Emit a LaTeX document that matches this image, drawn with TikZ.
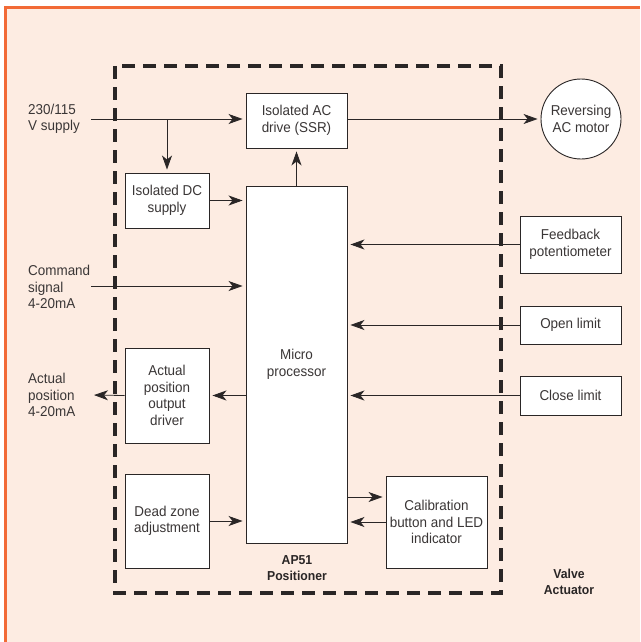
\documentclass[tikz,border=0pt]{standalone}
\usepackage{fontspec}
\setmainfont{Liberation Sans}[FakeStretch=0.94]
\usetikzlibrary{arrows.meta}
\definecolor{bgpeach}{HTML}{FDECE2}
\definecolor{frameorange}{HTML}{F26A36}
\definecolor{ink}{HTML}{2A2626}
\definecolor{txt}{HTML}{3A3636}
\begin{document}
\begin{tikzpicture}[x=1pt,y=-1pt,
  blk/.style={draw=ink,line width=0.9pt,fill=white,inner sep=1pt,align=center,
    font=\fontsize{14.3}{16.5}\selectfont,text=txt},
  lbl/.style={align=left,anchor=west,inner sep=0pt,font=\fontsize{14.3}{16.5}\selectfont,text=txt},
  bold/.style={align=center,inner sep=0pt,font=\fontsize{13}{16.5}\selectfont\bfseries,text=ink},
  conn/.style={draw=ink,line width=0.8pt,-{Stealth[length=14pt,width=10pt,inset=4pt]},shorten >=3pt}
]
\useasboundingbox (0,0) rectangle (640,642);
\fill[bgpeach] (5.5,7.5) rectangle (640,642);
\draw[frameorange,line width=3pt] (5.5,642) -- (5.5,7.5) -- (640,7.5);
\draw[ink,line width=3.6pt,dash pattern=on 13pt off 8pt] (115,66) rectangle (501,593);

\node[blk,minimum width=101pt,minimum height=55pt] (acd) at (296.5,120.5) {Isolated AC\\drive (SSR)};
\node[blk,minimum width=84pt,minimum height=55pt] (dcs) at (167,200.5) {Isolated DC\\supply};
\node[blk,minimum width=101pt,minimum height=357pt] (mp) at (296.5,364.5) {Micro\\processor};
\node[blk,circle,minimum size=80pt,inner sep=0pt] (motor) at (581,119) {Reversing\\AC motor};
\node[blk,minimum width=101pt,minimum height=57pt] (fb) at (570.5,244.5) {Feedback\\potentiometer};
\node[blk,minimum width=101pt,minimum height=38pt] (ol) at (570.5,325) {Open limit};
\node[blk,minimum width=101pt,minimum height=39pt] (cl) at (570.5,395.5) {Close limit};
\node[blk,minimum width=84pt,minimum height=95pt] (apd) at (167,395.5) {Actual\\position\\output\\driver};
\node[blk,minimum width=84pt,minimum height=94pt] (dz) at (167,521) {Dead zone\\adjustment};
\node[blk,minimum width=101pt,minimum height=92pt] (cal) at (436.5,522) {Calibration\\button and LED\\indicator};

\node[lbl] (suplbl) at (28,119) {230/115\\V supply};
\node[lbl] (cmdlbl) at (28,287) {Command\\signal\\4-20mA};
\node[lbl] (aplbl) at (28,395) {Actual\\position\\4-20mA};
\node[bold] (ap51) at (297,568) {AP51\\Positioner};
\node[bold] (va) at (569,582) {Valve\\Actuator};

\coordinate (supin) at (91,119);
\coordinate (br) at (167,119);
\coordinate (cmdin) at (91,286);
\coordinate (apout) at (91,395);

\draw[conn] (supin) -- (supin -| acd.west);
\draw[conn] (br) -- (dcs.north);
\draw[conn] (dcs.east) -- (dcs.east -| mp.west);
\draw[conn] (cmdin) -- (cmdin -| mp.west);
\draw[conn] (mp.north) -- (acd.south);
\draw[conn] (acd.east |- supin) -- (motor.west |- supin);
\draw[conn] (fb.west) -- (fb.west -| mp.east);
\draw[conn] (ol.west) -- (ol.west -| mp.east);
\draw[conn] (cl.west) -- (cl.west -| mp.east);
\draw[conn] (apd.east -| mp.west) -- (apd.east);
\draw[conn] (apd.west) -- (apout);
\draw[conn] (dz.east) -- (dz.east -| mp.west);
\draw[conn] ([yshift=25pt]cal.west -| mp.east) -- ([yshift=25pt]cal.west);
\draw[conn] (cal.west) -- (cal.west -| mp.east);
\end{tikzpicture}
\end{document}
